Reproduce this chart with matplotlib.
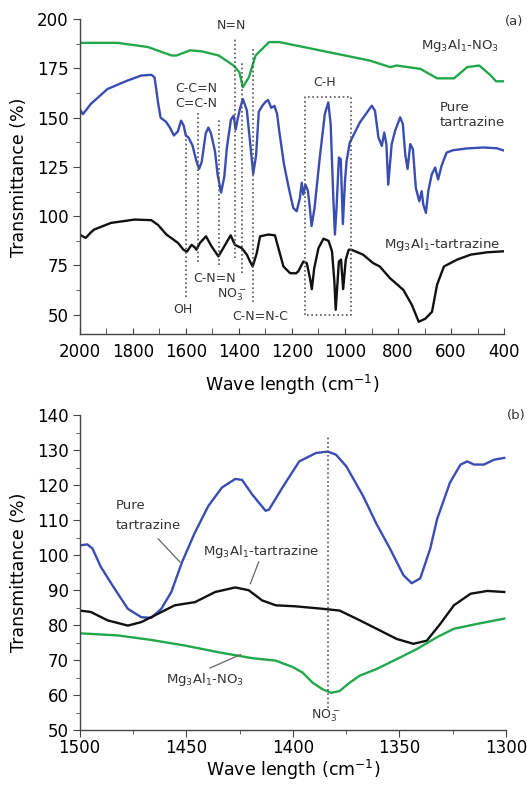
import matplotlib
matplotlib.use('Agg')
import matplotlib.pyplot as plt
from matplotlib.ticker import MultipleLocator

plt.rcParams['font.family'] = ['DejaVu Sans']
plt.rcParams['mathtext.fontset'] = 'dejavusans'

# ---------------- panel (a) data ----------------
wn_a_no3 = [2000, 1857, 1743, 1654, 1635, 1584, 1540, 1476, 1420, 1398, 1385, 1362, 1337,
            1286, 1248, 1160, 1033, 906, 830, 805, 716, 653, 589, 539, 494, 450, 431, 400]
tr_a_no3 = [188, 188, 185.9, 181.6, 181.6, 184.2, 183.7, 181.6, 176.5, 173.1, 165.5, 170.6, 181.6,
            188.4, 188.4, 186, 182.5, 179, 175.7, 176.5, 174.8, 170, 170, 175.7, 176.5, 171.4, 168.5, 168.5]

wn_a_tar = [2000, 1988, 1975, 1958, 1895, 1819, 1768, 1730, 1718, 1712, 1705, 1695, 1675, 1660,
            1645, 1630, 1618, 1608, 1600, 1590, 1575, 1560, 1550, 1540, 1525, 1515, 1505, 1490,
            1480, 1467, 1455, 1445, 1430, 1420, 1412, 1405, 1395, 1385, 1370, 1358, 1346, 1335,
            1325, 1312, 1300, 1290, 1278, 1266, 1256, 1248, 1230, 1212, 1195, 1182, 1170, 1163,
            1157, 1149, 1140, 1133, 1126, 1115, 1095, 1076, 1063, 1054, 1044, 1038, 1032, 1023,
            1016, 1008, 1000, 994, 982, 944, 899, 887, 874, 861, 852, 844, 837, 824, 811, 792,
            782, 773, 764, 754, 744, 733, 720, 711, 705, 695, 686, 673, 660, 649, 636, 617, 593,
            541, 479, 428, 400]
tr_a_tar = [154.4, 151.8, 154, 157, 164.6, 168.9, 171.4, 171.8, 170.5, 165, 158, 150, 148, 145,
            141, 143, 148.5, 146, 141, 140, 136, 128, 124, 127.6, 142, 145, 142, 133,
            121, 112, 120, 135, 149, 151, 144, 149, 155, 159.5, 153.8, 138, 121.5, 131,
            153, 156, 158, 159, 155, 156, 152, 143.4, 126.4, 114.4, 104.2, 102.5, 109.3, 117,
            111, 116, 113, 105, 95, 104, 129.8, 151.9, 157.8, 146.8, 109.3, 90.7, 104, 129.8,
            129, 96, 117.9, 128, 137.4, 147.6, 156.1, 153.6, 140, 135.7, 142.5, 136.6, 116, 136.6,
            143.4, 150.2, 146.8, 131.5, 124, 136.6, 134, 114.4, 107.6, 112.7, 106, 101.7, 112.7,
            121.3, 124.7, 118.7, 125.6, 132.3, 133.5, 134.4, 134.9, 134.5, 133.3]

wn_a_ldh = [2000, 1985, 1977, 1960, 1946, 1882, 1793, 1730, 1705, 1673, 1629, 1609, 1596, 1578,
            1565, 1560, 1547, 1524, 1503, 1477, 1458, 1431, 1415, 1400, 1389, 1370, 1358, 1348,
            1333, 1320, 1289, 1264, 1251, 1232, 1207, 1185, 1176, 1157, 1144, 1132, 1125, 1116,
            1100, 1081, 1062, 1049, 1040, 1035, 1028, 1023, 1015, 1007, 997, 986, 976, 932, 894,
            869, 830, 780, 748, 722, 697, 672, 653, 627, 577, 526, 463, 400]
tr_a_ldh = [90.7, 89.5, 89, 91.5, 93.2, 96.6, 98.3, 98, 95.6, 90.7, 86.4, 83, 82, 85.5,
            84, 83, 86.4, 89.8, 84.7, 79.6, 84, 90.3, 85.5, 84.5, 83.8, 80.5, 77, 74.5,
            81, 89.8, 90.7, 90.3, 83.8, 74.5, 71.1, 71, 72, 77, 76.2, 68.5, 63, 73.6,
            83.8, 88.6, 87.5, 82.2, 66.8, 52.5, 66.8, 77, 78, 63, 78, 83, 83, 80.5, 76.2,
            74.5, 68.5, 62.6, 55, 46.4, 48, 51.5, 65.2, 74.5, 78, 80.5, 81.7, 82.2]

# band marker lines in panel (a): position, lower end, upper end
band_a_pos = [1598, 1553, 1475, 1416, 1389, 1345]
band_a_low = [59, 77, 75, 79, 71, 56.6]
band_a_high = [143, 153.6, 150, 191, 178, 184.7]
ch_box_w = [1150, 976]
ch_box_t = [49.8, 160.4]

# ---------------- panel (b) data ----------------
wn_b_tar = [1500, 1496.4, 1494, 1490.1, 1483.8, 1477.4, 1471.1, 1466.4, 1461.7, 1457, 1452,
            1446, 1439.6, 1433.3, 1427, 1423.8, 1419.1, 1412.8, 1411.2, 1404.9, 1397,
            1389.1, 1383.6, 1379.7, 1374.9, 1367, 1360.7, 1354.4, 1348.1, 1344.2, 1340.2,
            1335.5, 1332.3, 1326.3, 1321.3, 1318.1, 1315, 1310.3, 1305.5, 1300.8]
tr_b_tar = [102.8, 103.1, 101.9, 96.7, 90.6, 84.7, 82.3, 82.1, 84.7, 89.5, 98,
            106.4, 114.1, 119.3, 121.8, 121.5, 117.4, 112.7, 113, 119.3, 126.8,
            129.2, 129.6, 128.7, 125.4, 116.9, 108.9, 101.9, 94.3, 92, 93.4,
            101.9, 110.3, 120.7, 125.9, 126.8, 125.9, 125.9, 127.3, 127.8]

wn_b_ldh = [1500, 1494.8, 1486.9, 1477.4, 1471.1, 1463.2, 1455.4, 1445.9, 1436.4, 1427, 1420.7,
            1414.4, 1408, 1398.6, 1386, 1378.1, 1370.2, 1360.7, 1351.3, 1343.4, 1337.1, 1330.8,
            1324.4, 1316.6, 1308.7, 1300.8]
tr_b_ldh = [84.2, 83.8, 81.4, 79.9, 80.9, 83.3, 85.7, 86.6, 89.5, 90.8, 90,
            87.1, 85.7, 85.4, 84.7, 84.2, 81.9, 79, 76.1, 74.7, 75.6, 80.4,
            85.7, 89, 89.8, 89.5]

wn_b_no3 = [1500, 1482.2, 1466.4, 1450.6, 1434.9, 1419.1, 1408, 1400.2, 1395.4, 1390.7, 1386,
            1382, 1378.1, 1373.3, 1368.6, 1360.7, 1351.3, 1341.8, 1332.3, 1324.4, 1313.4, 1300.8]
tr_b_no3 = [77.7, 77.1, 75.8, 74.2, 72.3, 70.6, 69.9, 68.1, 66.5, 63.6, 61.7,
            60.7, 61.2, 63.6, 65.6, 67.5, 70.3, 73.2, 76.6, 79, 80.4, 81.9]

band_b_pos = 1383.6
band_b_range = [56.4, 133.9]

GREEN = '#22a84b'
BLUE = '#3a4db2'
BLACK = '#111111'
DOT = '#555555'
SPINE = '#444444'
LW = 1.7

fig = plt.figure(figsize=(5.27, 7.85), dpi=100)
ax1 = fig.add_axes([0.1512, 0.574, 0.8055, 0.4015])
ax2 = fig.add_axes([0.1512, 0.0697, 0.8088, 0.4014])

for ax in (ax1, ax2):
    ax.spines['top'].set_visible(False)
    ax.spines['right'].set_visible(False)
    for s in ('left', 'bottom'):
        ax.spines[s].set_color(SPINE)
        ax.spines[s].set_linewidth(1.0)

# ---- panel (a)
ax1.plot(wn_a_no3, tr_a_no3, color=GREEN, lw=LW)
ax1.plot(wn_a_tar, tr_a_tar, color=BLUE, lw=LW)
ax1.plot(wn_a_ldh, tr_a_ldh, color=BLACK, lw=LW)
ax1.vlines(band_a_pos, band_a_low, band_a_high, colors=DOT, linestyles=(0, (1, 1.6)), lw=1.2)
ax1.plot([ch_box_w[0], ch_box_w[0], ch_box_w[1], ch_box_w[1], ch_box_w[0]],
         [ch_box_t[0], ch_box_t[1], ch_box_t[1], ch_box_t[0], ch_box_t[0]],
         color=DOT, ls=(0, (1, 1.6)), lw=1.2)
ax1.set_xlim(2000, 400)
ax1.set_ylim(40, 200)
ax1.xaxis.set_major_locator(MultipleLocator(200))
ax1.xaxis.set_minor_locator(MultipleLocator(100))
ax1.yaxis.set_minor_locator(MultipleLocator(12.5))
ax1.set_yticks([50, 75, 100, 125, 150, 175, 200])
ax1.tick_params(axis='x', which='both', direction='in', length=4, color=SPINE, labelsize=12, pad=6)
ax1.tick_params(axis='y', which='major', direction='out', length=5, color=SPINE, labelsize=12, pad=3)
ax1.tick_params(axis='y', which='minor', direction='out', length=3, color=SPINE)
ax1.set_xlabel('Wave length (cm$^{-1}$)', fontsize=12.5, labelpad=8.5)
ax1.set_ylabel('Transmittance (%)', fontsize=12.5, labelpad=6)

fs = 9
tc = '#333333'
ax1.text(1427, 197, 'N=N', fontsize=fs, ha='center', va='center', color=tc)
ax1.text(1559, 164.8, 'C-C=N', fontsize=fs, ha='center', va='center', color=tc)
ax1.text(1559, 157, 'C=C-N', fontsize=fs, ha='center', va='center', color=tc)
ax1.text(1078, 168, 'C-H', fontsize=fs, ha='center', va='center', color=tc)
ax1.text(566, 186.7, r'Mg$_3$Al$_1$-NO$_3$', fontsize=9.5, ha='center', va='center', color=tc)
ax1.text(642, 155.3, 'Pure', fontsize=9.5, ha='left', va='center', color=tc)
ax1.text(642, 147.6, 'tartrazine', fontsize=9.5, ha='left', va='center', color=tc)
ax1.text(635, 85.5, r'Mg$_3$Al$_1$-tartrazine', fontsize=9.5, ha='center', va='center', color=tc)
ax1.text(1490, 68.5, 'C-N=N', fontsize=fs, ha='center', va='center', color=tc)
ax1.text(1427, 60, r'NO$_3^-$', fontsize=fs, ha='center', va='center', color=tc)
ax1.text(1610, 52.4, 'OH', fontsize=fs, ha='center', va='center', color=tc)
ax1.text(1319, 49, 'C-N=N-C', fontsize=fs, ha='center', va='center', color=tc)
fig.text(0.975, 0.972, '(a)', fontsize=9.5, ha='center', va='center', color=tc)

# ---- panel (b)
ax2.plot(wn_b_tar, tr_b_tar, color=BLUE, lw=LW)
ax2.plot(wn_b_ldh, tr_b_ldh, color=BLACK, lw=LW)
ax2.plot(wn_b_no3, tr_b_no3, color=GREEN, lw=LW)
ax2.vlines([band_b_pos], band_b_range[0], band_b_range[1], colors=DOT, linestyles=(0, (1, 1.6)), lw=1.2)
ax2.set_xlim(1500, 1300)
ax2.set_ylim(50, 140)
ax2.xaxis.set_major_locator(MultipleLocator(50))
ax2.xaxis.set_minor_locator(MultipleLocator(25))
ax2.yaxis.set_major_locator(MultipleLocator(10))
ax2.yaxis.set_minor_locator(MultipleLocator(5))
ax2.tick_params(axis='x', which='major', direction='out', length=5, color=SPINE, labelsize=12, pad=1)
ax2.tick_params(axis='x', which='minor', direction='out', length=3, color=SPINE)
ax2.tick_params(axis='y', which='major', direction='out', length=5, color=SPINE, labelsize=12, pad=3)
ax2.tick_params(axis='y', which='minor', direction='out', length=3, color=SPINE)
ax2.set_xlabel('Wave length (cm$^{-1}$)', fontsize=12.5, labelpad=1)
ax2.set_ylabel('Transmittance (%)', fontsize=12.5, labelpad=6)

lc = '#666666'
ax2.text(1483, 114.1, 'Pure', fontsize=9.5, ha='left', va='center', color=tc)
ax2.text(1483, 108.6, 'tartrazine', fontsize=9.5, ha='left', va='center', color=tc)
ax2.plot([1463.2, 1453], [104.7, 98.1], color=lc, lw=0.9)
ax2.text(1414.7, 101.2, r'Mg$_3$Al$_1$-tartrazine', fontsize=9.5, ha='center', va='center', color=tc)
ax2.plot([1416, 1419.9], [98.1, 91.9], color=lc, lw=0.9)
ax2.text(1441.2, 64.6, r'Mg$_3$Al$_1$-NO$_3$', fontsize=9.5, ha='center', va='center', color=tc)
ax2.plot([1438.8, 1424.6], [67.8, 71.6], color=lc, lw=0.9)
ax2.text(1384.4, 54.2, r'NO$_3^-$', fontsize=fs, ha='center', va='center', color=tc)
fig.text(0.979, 0.471, '(b)', fontsize=9.5, ha='center', va='center', color=tc)

fig.savefig('out.png', dpi=100)
